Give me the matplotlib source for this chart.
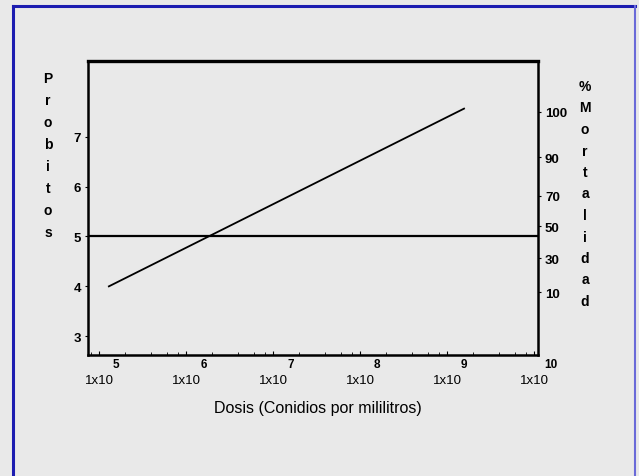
#!/usr/bin/env python3
"""Probit line of mortality against conidia dose."""

import matplotlib

matplotlib.use("Agg")
import matplotlib.pyplot as plt
from matplotlib.lines import Line2D
from matplotlib.ticker import LogLocator, NullFormatter

# data
dose = [1.3e5, 1.57e9]
probit = [4.0, 7.56]
probit_ref = 5.0

probit_ticks = [3, 4, 5, 6, 7]
mort_labels = ["10", "30", "50", "70", "90", "100"]
mort_probit = [3.88, 4.56, 5.20, 5.81, 6.59, 7.50]
decades = [5, 6, 7, 8, 9, 10]

plt.rcParams["font.family"] = ["Liberation Sans", "DejaVu Sans"]

BG = "#e9e9e9"
fig = plt.figure(figsize=(6.39, 4.77), dpi=100, facecolor=BG)
W, H = 639, 477
ax = fig.add_axes([88 / W, 1 - 356 / H, 450 / W, 294.3 / H], facecolor=BG)

ax.set_xscale("log")
ax.set_xlim(10 ** 4.874, 10 ** 10.046)
ax.set_ylim(2.625, 8.52)

ax.plot(dose, probit, color="black", lw=1.3)
ax.axhline(probit_ref, color="black", lw=1.6)

for sp in ax.spines.values():
    sp.set_linewidth(1.8)
ax.spines["top"].set_linewidth(2.4)

ax.set_xticks([10.0 ** k for k in decades], ["1x10"] * len(decades))
ax.xaxis.set_minor_locator(LogLocator(base=10, subs=(2, 4, 6, 8), numticks=50))
ax.xaxis.set_minor_formatter(NullFormatter())
ax.tick_params(axis="x", which="major", direction="in", length=3, pad=14,
               labelsize=9.5)
ax.tick_params(axis="x", which="minor", direction="in", length=2.5)
for k in decades:
    ax.annotate(str(k), xy=(10.0 ** k, 0), xycoords=("data", "axes fraction"),
                xytext=(12.5, -6.5), textcoords="offset points", ha="center",
                va="center", fontsize=8.5, fontweight="bold", annotation_clip=False)

ax.set_yticks(probit_ticks, [str(v) for v in probit_ticks])
ax.tick_params(axis="y", direction="out", length=2, pad=3, labelsize=9.5)
for lab in ax.get_yticklabels():
    lab.set_fontweight("bold")

ax2 = ax.twinx()
ax2.set_ylim(ax.get_ylim())
ax2.set_yticks(mort_probit, mort_labels)
ax2.tick_params(axis="y", direction="out", length=2, pad=3, labelsize=9.5)
for lab in ax2.get_yticklabels():
    lab.set_fontweight("bold")
for sp in ax2.spines.values():
    sp.set_visible(False)

# stacked axis titles, one letter per line
for i, ch in enumerate("Probitos"):
    fig.text(48 / W, 1 - (79 + 22 * i) / H, ch, ha="center", va="center",
             fontsize=10, fontweight="bold")
for i, ch in enumerate("%Mortalidad"):
    fig.text(585 / W, 1 - (87 + 21.5 * i) / H, ch, ha="center", va="center",
             fontsize=10, fontweight="bold")

fig.text(318 / W, 1 - 408 / H, "Dosis (Conidios por mililitros)", ha="center",
         va="center", fontsize=11.5)

# blue page frame of the scan
blue = "#1c1cb0"
fig.add_artist(Line2D([13 / W, 13 / W], [0, 1 - 7 / H], color=blue, lw=2.2))
fig.add_artist(Line2D([13 / W, 635 / W], [1 - 7 / H, 1 - 7 / H], color=blue, lw=2.2))
fig.add_artist(Line2D([635 / W, 635 / W], [0, 1 - 7 / H], color="#6a6ad8", lw=1.5))

fig.savefig("out.png", dpi=100, facecolor=BG)
